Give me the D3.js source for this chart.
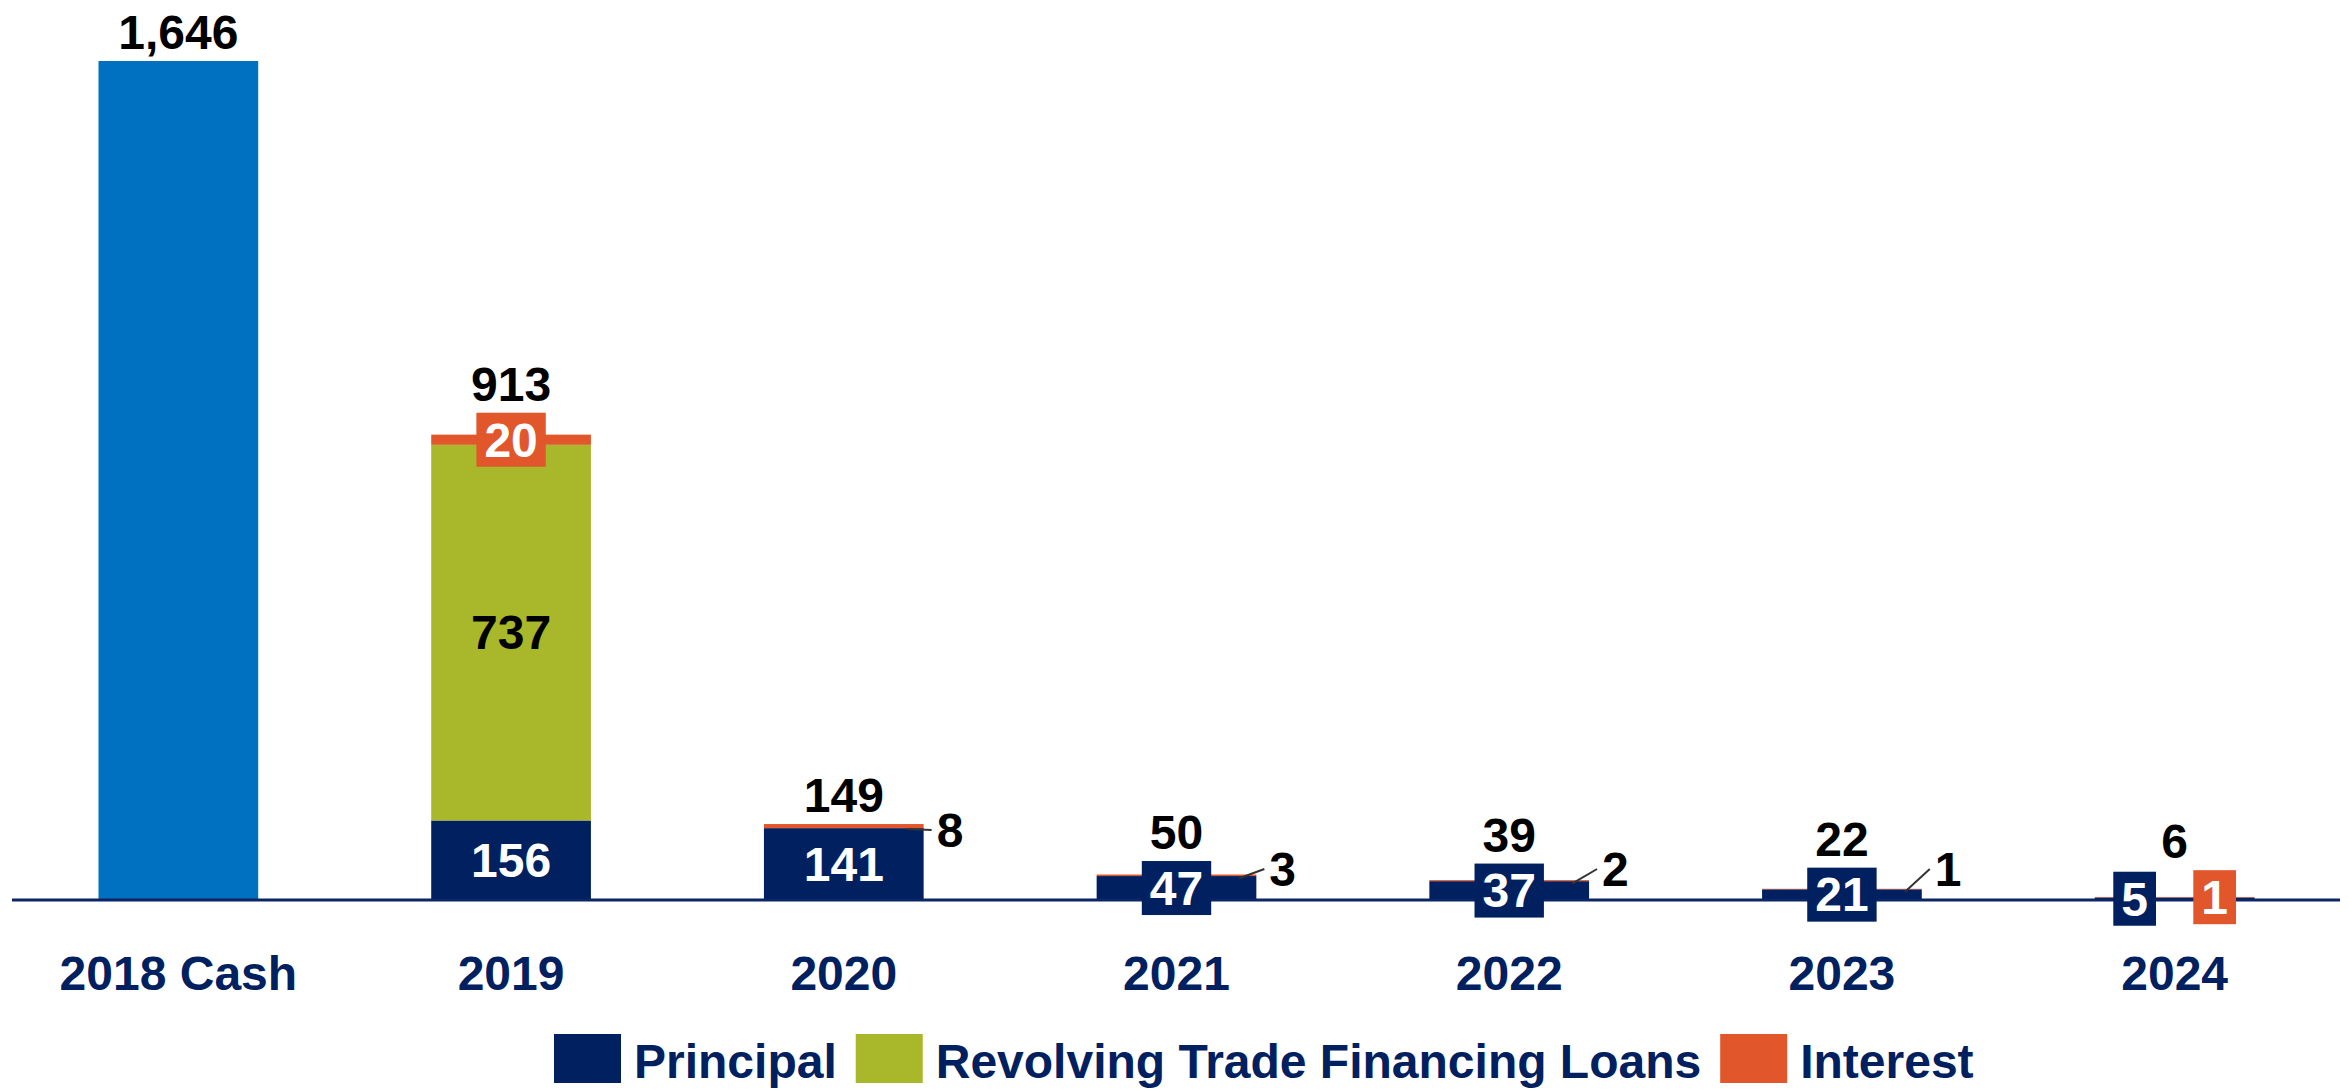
<!DOCTYPE html>
<html>
<head>
<meta charset="utf-8">
<script src="https://cdn.jsdelivr.net/npm/d3@7"></script>
<style>
  body { margin: 0; background: #fff; }
  text { font-family: "Liberation Sans", Arial, sans-serif; font-weight: bold; }
</style>
</head>
<body>
<div id="chart"></div>
<script>
var WIDTH = 2349, HEIGHT = 1089;
var FONT = 48;

var categories = ['2018 Cash', '2019', '2020', '2021', '2022', '2023', '2024'];
var cash       = [1646, 0, 0, 0, 0, 0, 0];
var principal  = [0, 156, 141, 47, 37, 21, 5];
var revolving  = [0, 737, 0, 0, 0, 0, 0];
var interest   = [0, 20, 8, 3, 2, 1, 1];

var seriesKeys   = ['cash', 'principal', 'revolving', 'interest'];
var legendKeys   = ['principal', 'revolving', 'interest'];
var legendLabels = ['Principal', 'Revolving Trade Financing Loans', 'Interest'];

var colors = {
  cash: '#0070C0',
  principal: '#002060',
  revolving: '#A8B82A',
  interest: '#E1562A'
};
var NAVY = '#002060';

var rows = categories.map(function(c, i){
  return {cat: c, cash: cash[i], principal: principal[i], revolving: revolving[i], interest: interest[i]};
});

var svg = d3.select('#chart').append('svg')
  .attr('width', WIDTH).attr('height', HEIGHT);

var x = d3.scaleBand()
  .domain(categories)
  .range([12, 2341])
  .paddingInner(0.52)
  .paddingOuter(0.26);

var y = d3.scaleLinear()
  .domain([0, 1646])
  .range([900, 61]);

var stack = d3.stack().keys(seriesKeys);
var layers = stack(rows);

// bars
svg.selectAll('.layer')
  .data(layers)
  .enter().append('g')
  .attr('class', 'layer')
  .attr('fill', function(d){ return colors[d.key]; })
  .selectAll('rect')
  .data(function(d){ return d; })
  .enter().append('rect')
  .attr('x', function(d){ return x(d.data.cat); })
  .attr('width', x.bandwidth())
  .attr('y', function(d){ return y(d[1]); })
  .attr('height', function(d){ return y(d[0]) - y(d[1]); });

// baseline
svg.append('line')
  .attr('x1', 12).attr('x2', 2340)
  .attr('y1', y(0)).attr('y2', y(0))
  .attr('stroke', '#0B2566')
  .attr('stroke-width', 3);

// segment labels
var labelG = svg.append('g');
var topEdge = categories.map(function(c, i){ return y(cash[i] + principal[i] + revolving[i] + interest[i]); });

function boxLabel(cx, cy, value, fill, i){
  var g = labelG.append('g');
  var t = g.append('text')
    .attr('x', cx).attr('y', cy).attr('dy', '0.35em')
    .attr('text-anchor', 'middle')
    .attr('font-size', FONT)
    .attr('fill', '#fff')
    .text(value);
  var w = t.node().getComputedTextLength() + 16;
  g.insert('rect', 'text')
    .attr('x', cx - w / 2).attr('y', cy - 27)
    .attr('width', w).attr('height', 54)
    .attr('fill', fill);
  topEdge[i] = Math.min(topEdge[i], cy - 27);
}

layers.forEach(function(layer){
  if(layer.key === 'cash') return;
  layer.forEach(function(d, i){
    var v = d[1] - d[0];
    if(v <= 0) return;
    var cx = x(d.data.cat) + x.bandwidth() / 2;
    var y0 = y(d[0]), y1 = y(d[1]);
    var cy = (y0 + y1) / 2;
    var last = i === categories.length - 1;

    if(y0 - y1 >= 50){
      labelG.append('text')
        .attr('x', cx).attr('y', cy).attr('dy', '0.35em')
        .attr('text-anchor', 'middle')
        .attr('font-size', FONT)
        .attr('fill', layer.key === 'revolving' ? '#000' : '#fff')
        .text(v);
    } else if(layer.key === 'principal'){
      boxLabel(last ? cx - 40 : cx, cy, v, colors.principal, i);
    } else if(revolving[i] > 0 || last){
      boxLabel(last ? cx + 40 : cx, cy, v, colors.interest, i);
    } else {
      // callout to the right
      var right = x(d.data.cat) + x.bandwidth();
      var ly = Math.min(cy + 4, y(0) - 31);
      labelG.append('line')
        .attr('x1', right - 17).attr('y1', cy + 3)
        .attr('x2', right + 8).attr('y2', ly)
        .attr('stroke', '#333')
        .attr('stroke-width', 2);
      labelG.append('text')
        .attr('x', right + 13).attr('y', ly).attr('dy', '0.35em')
        .attr('font-size', FONT)
        .attr('fill', '#000')
        .text(v);
    }
  });
});

// totals
labelG.selectAll('.total')
  .data(rows)
  .enter().append('text')
  .attr('class', 'total')
  .attr('x', function(d){ return x(d.cat) + x.bandwidth() / 2; })
  .attr('y', function(d, i){ return topEdge[i] - 12; })
  .attr('text-anchor', 'middle')
  .attr('font-size', FONT)
  .attr('fill', '#000')
  .text(function(d){ return d3.format(',')(d.cash + d.principal + d.revolving + d.interest); });

// category labels
svg.selectAll('.cat')
  .data(categories)
  .enter().append('text')
  .attr('class', 'cat')
  .attr('x', function(d){ return x(d) + x.bandwidth() / 2; })
  .attr('y', 990)
  .attr('text-anchor', 'middle')
  .attr('font-size', FONT)
  .attr('fill', NAVY)
  .text(function(d){ return d; });

// legend
var legend = svg.append('g');
var lx = 554;
legendKeys.forEach(function(k, i){
  legend.append('rect')
    .attr('x', lx).attr('y', 1034)
    .attr('width', 67).attr('height', 49)
    .attr('fill', colors[k]);
  var t = legend.append('text')
    .attr('x', lx + 80).attr('y', 1078)
    .attr('font-size', FONT)
    .attr('fill', NAVY)
    .text(legendLabels[i]);
  lx += 80 + t.node().getComputedTextLength() + 19;
});
</script>
</body>
</html>
